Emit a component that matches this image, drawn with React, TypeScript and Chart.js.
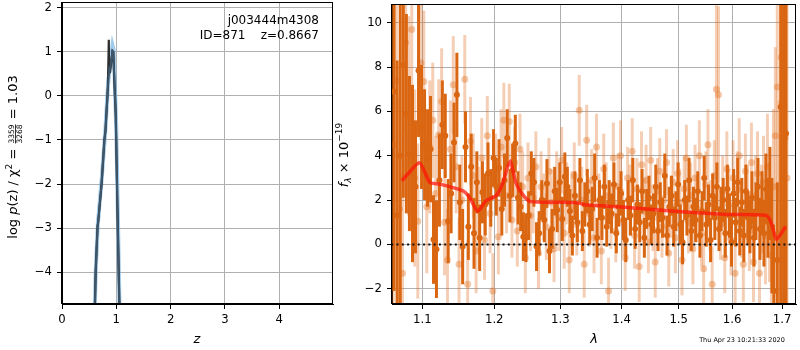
import React, { useEffect, useRef } from 'react';
import { Chart, registerables } from 'chart.js';
Chart.register(...registerables);

const FONT = '"DejaVu Sans", sans-serif';

// ---------- left panel: log p(z) ----------
const zTicks = [0, 1, 2, 3, 4];
const logpTicks = [-4, -3, -2, -1, 0, 1, 2];
const zBlue = [0.59, 0.62, 0.66, 0.73, 0.8, 0.85, 0.89, 0.93, 0.95, 0.97, 1.0, 1.03, 1.07];
const logpBlue = [-5.6, -4.0, -2.9, -1.9, -0.75, 0.3, 0.75, 1.15, 1.05, 0.4, -0.8, -2.8, -5.6];
const zBlack = [0.59, 0.62, 0.655, 0.665, 0.73, 0.78, 0.8, 0.845, 0.862, 0.868, 0.885, 0.93, 0.945, 0.965, 0.99, 1.02, 1.07];
const logpBlack = [-5.6, -4.0, -2.95, -2.88, -1.98, -1.0, -0.8, 0.2, 1.28, 0.52, 0.55, 1.02, 1.0, 0.3, -0.45, -2.5, -5.6];
const zSlate = [0.59, 0.62, 0.655, 0.665, 0.73, 0.78, 0.8, 0.845, 0.87, 0.885, 0.93, 0.945, 0.965, 0.99, 1.02, 1.07];
const logpSlate = [-5.6, -4.0, -2.95, -2.88, -1.98, -1.0, -0.8, 0.2, 0.62, 0.6, 1.02, 1.0, 0.3, -0.45, -2.5, -5.6];

// ---------- right panel: spectrum ----------
const lamTicks = [1.1, 1.2, 1.3, 1.4, 1.5, 1.6, 1.7];
const fluxTicks = [-2, 0, 2, 4, 6, 8, 10];
const lamZero = [1.0, 1.8];
const fluxZero = [0, 0];
const lamModel = [1.0732, 1.0961, 1.1102, 1.1236, 1.1554, 1.1647, 1.1763, 1.1882, 1.2025, 1.2121, 1.2232, 1.2317, 1.2415, 1.254, 1.3024, 1.3287, 1.3394, 1.4107, 1.4977, 1.5902, 1.6682, 1.6782, 1.6883, 1.7072];
const fluxModel = [2.87, 3.69, 2.79, 2.72, 2.42, 2.12, 1.49, 1.97, 2.2, 2.73, 3.77, 2.79, 2.27, 1.93, 1.9, 1.87, 1.79, 1.67, 1.49, 1.35, 1.3, 0.94, 0.22, 0.81];

const lamDark = [
  1.063, 1.067, 1.071, 1.075, 1.079, 1.083, 1.087, 1.091, 1.095, 1.099,
  1.103, 1.107, 1.111, 1.115, 1.119, 1.123, 1.127, 1.131, 1.135, 1.139,
  1.143, 1.147, 1.151, 1.155, 1.159, 1.163, 1.167, 1.171, 1.175, 1.179,
  1.183, 1.187, 1.191, 1.195, 1.199, 1.203, 1.207, 1.211, 1.215, 1.219,
  1.223, 1.227, 1.231, 1.235, 1.239, 1.243, 1.247, 1.251, 1.255, 1.259,
  1.263, 1.267, 1.271, 1.275, 1.279, 1.283, 1.287, 1.291, 1.295, 1.299,
  1.303, 1.307, 1.311, 1.315, 1.319, 1.323, 1.327, 1.331, 1.335, 1.339,
  1.343, 1.347, 1.351, 1.355, 1.359, 1.363, 1.367, 1.371, 1.375, 1.379,
  1.383, 1.387, 1.391, 1.395, 1.399, 1.403, 1.407, 1.411, 1.415, 1.419,
  1.423, 1.427, 1.431, 1.435, 1.439, 1.443, 1.447, 1.451, 1.455, 1.459,
  1.463, 1.467, 1.471, 1.475, 1.479, 1.483, 1.487, 1.491, 1.495, 1.499,
  1.503, 1.507, 1.511, 1.515, 1.519, 1.523, 1.527, 1.531, 1.535, 1.539,
  1.543, 1.547, 1.551, 1.555, 1.559, 1.563, 1.567, 1.571, 1.575, 1.579,
  1.583, 1.587, 1.591, 1.595, 1.599, 1.603, 1.607, 1.611, 1.615, 1.619,
  1.623, 1.627, 1.631, 1.635, 1.639, 1.643, 1.647, 1.651, 1.655, 1.659,
  1.663, 1.667, 1.671, 1.675, 1.679, 1.683, 1.69, 1.697, 1.703, 1.708,
];
const fluxDark = [
  6.9, 1.3, 4.0, 8.1, 5.9, 4.1, 3.2, 2.6, 7.85, 5.3,
  4.5, 3.9, 4.3, 0.22, -0.22, 2.9, 5.4, 4.9, 1.05, 2.3,
  4.6, 6.75, 1.9, -0.1, 4.4, 0.8, 3.5, 0.5, 2.8, 0.3,
  2.35, 1.8, 3.2, 2.1, 3.9, 2.6, 3.45, 1.6, 2.9, 4.8,
  2.2, 3.35, 4.55, 2.1, 1.7, 0.35, 0.3, 1.3, 3.2, 2.8,
  -0.1, 0.5, 2.0, 1.1, 2.75, -0.3, 0.7, 2.4, 1.55, 2.8,
  1.15, 3.05, 2.6, 1.5, 0.4, 2.2, 1.0, 2.9, 0.6, 1.8,
  2.4, 0.9, 1.6, 3.0, 0.3, 2.0, 1.2, 2.6, 0.8, 1.9,
  1.4, 2.7, 0.5, 1.7, 2.3, 1.1, 0.2, 2.0, 1.3, 2.9,
  0.7, 1.8, 1.0, 2.4, 0.3, 1.6, 2.1, 0.9, 1.4, 2.6,
  0.6, 1.9, 1.2, 3.1, 0.4, 1.7, 2.2, 0.8, 1.5, 2.7,
  0.9, 0.1, 2.0, 1.3, 2.9, 0.6, 1.7, 1.1, 2.4, 0.4,
  1.5, 3.0, 0.9, 1.8, 0.2, 2.2, 1.2, 2.6, 0.7, 1.6,
  2.0, 0.5, 2.5, 1.3, 0.1, 2.3, 1.0, 2.8, 0.6, 1.9,
  0.4, 2.4, 1.2, 0.8, 2.1, 0.3, 1.5, 2.6, 0.7, 1.9,
  0.5, 2.5, 1.2, 2.3, 0.4, -2.1, -0.7, 6.2, 3.0, 5.0,
];
const errDark = [
  9, 7, 8, 6, 4.5, 3.5, 4, 3, 3, 2.8,
  2.5, 2.2, 2.4, 2.0, 2.2, 2.1, 2.0, 1.9, 1.9, 1.8,
  1.8, 1.9, 1.7, 1.7, 1.6, 1.5, 1.5, 1.6, 1.4, 1.5,
  1.4, 1.4, 1.4, 1.3, 1.3, 1.3, 1.3, 1.2, 1.2, 1.3,
  1.2, 1.2, 1.3, 1.2, 1.1, 1.1, 1.1, 1.1, 1.0, 1.1,
  1.1, 1.0, 0.9, 1.0, 1.1, 1.0, 0.9, 1.1, 1.0, 0.9,
  1.0, 1.1, 0.9, 1.0, 0.9, 1.1, 0.9, 1.0, 0.9, 1.0,
  1.0, 0.9, 1.0, 1.1, 0.9, 0.9, 1.0, 1.0, 0.9, 1.0,
  0.9, 1.0, 0.9, 0.9, 1.0, 0.9, 1.0, 0.9, 0.9, 1.0,
  0.9, 0.9, 0.9, 1.0, 0.9, 0.9, 1.0, 0.9, 0.9, 1.0,
  0.9, 0.9, 0.9, 1.0, 0.9, 0.9, 0.9, 0.9, 0.9, 1.0,
  0.9, 1.0, 0.9, 0.9, 1.0, 0.9, 0.9, 1.0, 0.9, 1.0,
  0.9, 1.0, 1.0, 0.9, 1.0, 1.0, 1.0, 1.1, 1.0, 1.0,
  1.0, 1.1, 1.1, 1.0, 1.1, 1.1, 1.1, 1.1, 1.1, 1.1,
  1.2, 1.2, 1.2, 1.2, 1.2, 1.3, 1.3, 1.3, 1.4, 1.4,
  1.5, 1.6, 1.8, 2.1, 2.6, 3.0, 3.5, 10, 15, 20,
];

const lamLight = [
  1.062, 1.066, 1.07, 1.074, 1.078, 1.082, 1.086, 1.09, 1.094, 1.098,
  1.102, 1.106, 1.11, 1.114, 1.118, 1.122, 1.126, 1.13, 1.134, 1.138,
  1.142, 1.146, 1.15, 1.154, 1.158, 1.162, 1.166, 1.17, 1.174, 1.178,
  1.182, 1.186, 1.19, 1.194, 1.198, 1.202, 1.206, 1.21, 1.214, 1.218,
  1.222, 1.226, 1.23, 1.234, 1.238, 1.242, 1.246, 1.25, 1.254, 1.258,
  1.262, 1.266, 1.27, 1.274, 1.278, 1.282, 1.286, 1.29, 1.294, 1.298,
  1.302, 1.306, 1.31, 1.314, 1.318, 1.322, 1.326, 1.33, 1.334, 1.338,
  1.342, 1.346, 1.35, 1.354, 1.358, 1.362, 1.366, 1.37, 1.374, 1.378,
  1.382, 1.386, 1.39, 1.394, 1.398, 1.402, 1.406, 1.41, 1.414, 1.418,
  1.422, 1.426, 1.43, 1.434, 1.438, 1.442, 1.446, 1.45, 1.454, 1.458,
  1.462, 1.466, 1.47, 1.474, 1.478, 1.482, 1.486, 1.49, 1.494, 1.498,
  1.502, 1.506, 1.51, 1.514, 1.518, 1.522, 1.526, 1.53, 1.534, 1.538,
  1.542, 1.546, 1.55, 1.554, 1.558, 1.562, 1.566, 1.57, 1.574, 1.578,
  1.582, 1.586, 1.59, 1.594, 1.598, 1.602, 1.606, 1.61, 1.614, 1.618,
  1.622, 1.626, 1.63, 1.634, 1.638, 1.642, 1.646, 1.65, 1.654, 1.658,
  1.662, 1.666, 1.67, 1.674, 1.678, 1.682, 1.686, 1.69, 1.694, 1.698,
  1.702, 1.706, 1.71,
];
const fluxLight = [
  4.5, 7.4, 1.6, -1.3, 9.1, 5.8, 9.7, 3.0, 1.05, 8.2,
  7.35, 1.7, 4.4, 5.6, 2.3, 4.95, 6.45, 1.0, -0.7, 4.3,
  7.2, 3.5, -0.9, 2.0, 7.45, -1.8, 4.65, 3.1, -0.3, 1.6,
  3.9, 0.2, 4.9, 1.4, -2.1, 3.3, 0.35, 4.4, 5.6, 2.2,
  5.55, 1.1, 3.7, 0.6, 4.3, 2.6, -0.6, 3.0, 1.3, 2.1,
  3.5, -0.4, 2.6, 1.7, 0.8, 3.3, 1.9, -0.2, 2.7, 1.2,
  3.8, 0.5, 2.3, -0.7, 1.6, 3.1, 0.9, 6.05, 2.0, -0.9,
  4.7, 1.4, 2.9, 0.3, 4.4, 1.8, -0.3, 3.4, 2.2, -2.1,
  1.3, 3.9, 0.6, 2.6, 4.0, 1.0, -0.6, 3.0, 2.0, 4.2,
  0.4, 2.5, -1.0, 3.6, 1.5, 2.9, 0.1, 3.8, 1.2, -0.8,
  2.4, 3.3, 0.8, 2.0, 3.7, -0.4, 1.7, 2.8, 0.3, 3.2,
  1.9, -0.7, 2.5, 3.9, 1.0, 2.2, -0.2, 3.0, 1.6, 4.0,
  0.5, -1.1, 2.7, 4.5, 1.3, -1.8, 3.1, 7.0, 6.75, 0.9,
  2.4, -0.6, 3.4, 1.8, 0.2, 3.0, -1.3, 2.5, 4.0, 1.1,
  -0.9, 3.3, 1.9, 0.6, 3.7, -0.8, 2.2, 3.2, -1.3, 1.6,
  2.8, 0.4, 3.5, 1.0, -0.5, 2.6, 4.9, 7.1, 0.5, 8.45,
  7.6, 4.8, 3.0,
];
const errLight = [
  10, 6, 5, 4.5, 4, 4.5, 3.5, 4, 3.5, 3.5,
  3.2, 3, 3, 2.6, 2.6, 2.5, 2.4, 2.4, 2.3, 2.2,
  2.2, 2.1, 2.1, 2.0, 2.0, 2.0, 2.0, 1.9, 1.9, 1.9,
  1.8, 1.8, 1.8, 1.8, 1.7, 1.7, 1.7, 1.7, 1.7, 1.7,
  1.7, 1.7, 1.6, 1.6, 1.6, 1.6, 1.6, 1.6, 1.6, 1.6,
  1.6, 1.6, 1.6, 1.5, 1.5, 1.5, 1.5, 1.5, 1.5, 1.5,
  1.5, 1.6, 1.4, 1.5, 1.7, 1.5, 1.4, 1.6, 1.5, 1.5,
  1.6, 1.5, 1.4, 1.6, 1.5, 1.4, 1.5, 1.6, 1.5, 1.5,
  1.5, 1.6, 1.4, 1.5, 1.6, 1.5, 1.5, 1.4, 1.6, 1.5,
  1.5, 1.4, 1.6, 1.5, 1.5, 1.6, 1.4, 1.5, 1.5, 1.6,
  1.5, 1.5, 1.4, 1.6, 1.5, 1.5, 1.4, 1.5, 1.6, 1.5,
  1.5, 1.6, 1.5, 1.5, 1.4, 1.5, 1.6, 1.5, 1.5, 1.6,
  1.5, 1.6, 1.5, 1.6, 1.6, 1.7, 1.6, 3.8, 4.0, 1.6,
  1.6, 1.6, 1.7, 1.6, 1.6, 1.7, 1.6, 1.7, 1.7, 1.7,
  1.7, 1.7, 1.7, 1.8, 1.8, 1.8, 1.8, 1.9, 1.9, 2.0,
  2.1, 2.2, 2.4, 2.7, 3, 3.5, 4, 5, 6, 7,
  9, 11, 14,
];

const pts = (xs: number[], ys: number[]) => xs.map((x, i) => ({ x, y: ys[i] }));
const fmtMinus = (v: any) => String(v).replace('-', '\u2212');

const errorBarPlugin = {
  id: 'errbars',
  beforeDatasetDraw(chart: any, args: any) {
    const ds = chart.data.datasets[args.index];
    if (!ds.errs) return;
    const { ctx, chartArea, scales } = chart;
    const xs = scales.x, ys = scales.y;
    ctx.save();
    ctx.beginPath();
    ctx.rect(chartArea.left, chartArea.top, chartArea.right - chartArea.left, chartArea.bottom - chartArea.top);
    ctx.clip();
    ctx.strokeStyle = ds.errColor;
    ctx.lineWidth = ds.errWidth;
    ctx.lineCap = 'butt';
    ds.data.forEach((p: any, i: number) => {
      const px = xs.getPixelForValue(p.x);
      ctx.beginPath();
      ctx.moveTo(px, ys.getPixelForValue(p.y - ds.errs[i]));
      ctx.lineTo(px, ys.getPixelForValue(p.y + ds.errs[i]));
      ctx.stroke();
    });
    ctx.restore();
  },
};

const framePlugin = {
  id: 'frame',
  afterDatasetsDraw(chart: any) {
    const { ctx, chartArea } = chart;
    ctx.save();
    ctx.strokeStyle = '#000';
    ctx.lineWidth = 1;
    const l = Math.round(chartArea.left) - 0.5, t = Math.round(chartArea.top) + 0.5;
    const r = Math.round(chartArea.right) - 0.5, b = Math.round(chartArea.bottom) - 0.5;
    ctx.strokeRect(l, t, r - l, b - t);
    ctx.restore();
  },
};

type Piece = { t?: string; frac?: [string, string]; font: string; dy?: number };
function drawRotatedRich(ctx: CanvasRenderingContext2D, bx: number, cy: number, pieces: Piece[]) {
  ctx.save();
  ctx.translate(bx, cy);
  ctx.rotate(-Math.PI / 2);
  ctx.fillStyle = '#000';
  ctx.textBaseline = 'alphabetic';
  const widths = pieces.map((p) => {
    ctx.font = p.font;
    if (p.frac) return Math.max(ctx.measureText(p.frac[0]).width, ctx.measureText(p.frac[1]).width) + 2;
    return ctx.measureText(p.t || '').width;
  });
  const total = widths.reduce((a, b) => a + b, 0);
  let x = -total / 2;
  pieces.forEach((p, i) => {
    ctx.font = p.font;
    const w = widths[i];
    if (p.frac) {
      ctx.textAlign = 'center';
      ctx.fillText(p.frac[0], x + w / 2, -2.8);
      ctx.fillText(p.frac[1], x + w / 2, 4.6);
      ctx.fillRect(x + 1, -2.0, w - 2, 0.8);
      ctx.textAlign = 'left';
    } else {
      ctx.textAlign = 'left';
      ctx.fillText(p.t || '', x, p.dy || 0);
    }
    x += w;
  });
  ctx.restore();
}

const N = (s: number) => `${s}px ${FONT}`;
const I = (s: number) => `italic ${s}px ${FONT}`;

const leftTextPlugin = {
  id: 'leftText',
  afterDraw(chart: any) {
    const ctx: CanvasRenderingContext2D = chart.ctx;
    ctx.save();
    ctx.fillStyle = '#000';
    ctx.font = N(12);
    ctx.textAlign = 'right';
    ctx.textBaseline = 'alphabetic';
    ctx.fillText('j003444m4308', 319, 23.5);
    ctx.fillText('ID=871    z=0.8667', 319, 38.5);
    ctx.font = I(13);
    ctx.textAlign = 'center';
    ctx.fillText('z', 197, 343);
    ctx.restore();
    drawRotatedRich(ctx, 17, 157, [
      { t: 'log ', font: N(13) },
      { t: 'p', font: I(13) },
      { t: '(z) / \u03c7', font: N(13) },
      { t: '2', font: N(9), dy: -5 },
      { t: ' = ', font: N(13) },
      { frac: ['3359', '3268'], font: N(7.5) },
      { t: ' = 1.03', font: N(13) },
    ]);
  },
};

const rightTextPlugin = {
  id: 'rightText',
  afterDraw(chart: any) {
    const ctx: CanvasRenderingContext2D = chart.ctx;
    ctx.save();
    ctx.fillStyle = '#000';
    ctx.font = I(13);
    ctx.textAlign = 'center';
    ctx.textBaseline = 'alphabetic';
    ctx.fillText('\u03bb', 264, 343);
    ctx.font = N(6.5);
    ctx.fillText('Thu Apr 23 10:21:33 2020', 412, 342);
    ctx.restore();
    drawRotatedRich(ctx, 18, 155, [
      { t: 'f', font: I(13) },
      { t: '\u03bb', font: I(9), dy: 3 },
      { t: ' \u00d7 10', font: N(13) },
      { t: '\u221219', font: N(9), dy: -6 },
    ]);
  },
};

function axis(type: string, min: number, max: number, ticks: number[], isX: boolean, fixed: number, fmt: (v: any) => string) {
  return {
    type,
    min,
    max,
    afterBuildTicks: (s: any) => {
      s.ticks = ticks.map((v) => ({ value: v }));
    },
    afterFit: (s: any) => {
      if (isX) s.height = fixed;
      else s.width = fixed;
      s.paddingTop = 0;
      s.paddingBottom = 0;
      s.paddingLeft = 0;
      s.paddingRight = 0;
    },
    grid: { color: '#b0b0b0', lineWidth: 1, tickColor: '#000', tickLength: 5, drawTicks: true },
    border: { display: true, color: '#000', width: 1 },
    ticks: { color: '#000', font: { family: FONT, size: 11.7 }, padding: isX ? 4 : 5, autoSkip: false, maxRotation: 0, minRotation: 0, callback: fmt },
  };
}

export default function App() {
  const leftRef = useRef<HTMLCanvasElement>(null);
  const rightRef = useRef<HTMLCanvasElement>(null);

  useEffect(() => {
    const common = {
      animation: false as const,
      responsive: false,
      devicePixelRatio: 1,
      events: [] as any[],
      plugins: { legend: { display: false }, tooltip: { enabled: false } },
    };

    const left = new Chart(leftRef.current!, {
      type: 'scatter',
      data: {
        datasets: [
          { data: pts(zSlate, logpSlate), showLine: true, borderColor: 'rgb(62,86,106)', borderWidth: 2, pointRadius: 0, order: 0, clip: 0 } as any,
          { data: pts(zBlack, logpBlack), showLine: true, borderColor: 'rgb(45,45,45)', borderWidth: 2.2, pointRadius: 0, order: 1, clip: 0 } as any,
          { data: pts(zBlue, logpBlue), showLine: true, borderColor: 'rgba(110,175,225,0.65)', borderWidth: 4, pointRadius: 0, order: 2, clip: 0 } as any,
        ],
      },
      options: {
        ...common,
        layout: { padding: { top: 2, right: 7, left: 0, bottom: 0 } },
        scales: {
          x: axis('linear', 0, 4.99, zTicks, true, 46, (v) => fmtMinus(v)) as any,
          y: axis('linear', -4.727, 2.136, logpTicks, false, 62, (v) => fmtMinus(v)) as any,
        },
      },
      plugins: [framePlugin, leftTextPlugin],
    });

    const right = new Chart(rightRef.current!, {
      type: 'scatter',
      data: {
        datasets: [
          { data: pts(lamModel, fluxModel), showLine: true, borderColor: 'rgba(255,20,10,0.72)', borderWidth: 3.5, pointRadius: 0, tension: 0.2, order: 0, clip: 0 } as any,
          { data: pts(lamZero, fluxZero), showLine: true, borderColor: '#111', borderWidth: 2, borderDash: [2, 3.3], pointRadius: 0, order: 1, clip: 0 } as any,
          {
            data: pts(lamDark, fluxDark), errs: errDark, errColor: 'rgb(218,102,18)', errWidth: 3,
            pointRadius: 3, pointBackgroundColor: 'rgb(218,102,18)', pointBorderWidth: 0, order: 2, clip: 0,
          } as any,
          {
            data: pts(lamLight, fluxLight), errs: errLight, errColor: 'rgba(225,110,30,0.33)', errWidth: 3,
            pointRadius: 3.5, pointBackgroundColor: 'rgba(225,110,30,0.38)', pointBorderWidth: 0, order: 3, clip: 0,
          } as any,
        ],
      },
      options: {
        ...common,
        layout: { padding: { top: 2, right: 1, left: 0, bottom: 0 } },
        scales: {
          x: axis('logarithmic', 1.0604, 1.7287, lamTicks, true, 46, (v) => Number(v).toFixed(1)) as any,
          y: axis('linear', -2.69, 10.85, fluxTicks, false, 62, (v) => fmtMinus(v)) as any,
        },
      },
      plugins: [errorBarPlugin, framePlugin, rightTextPlugin],
    });

    return () => {
      left.destroy();
      right.destroy();
    };
  }, []);

  return (
    <div style={{ position: 'fixed', left: 0, top: 0, width: 800, height: 350, background: '#fff' }}>
      <canvas ref={leftRef} width={340} height={350} style={{ position: 'absolute', left: 0, top: 0, width: 340, height: 350 }} />
      <canvas ref={rightRef} width={470} height={350} style={{ position: 'absolute', left: 330, top: 0, width: 470, height: 350 }} />
    </div>
  );
}
